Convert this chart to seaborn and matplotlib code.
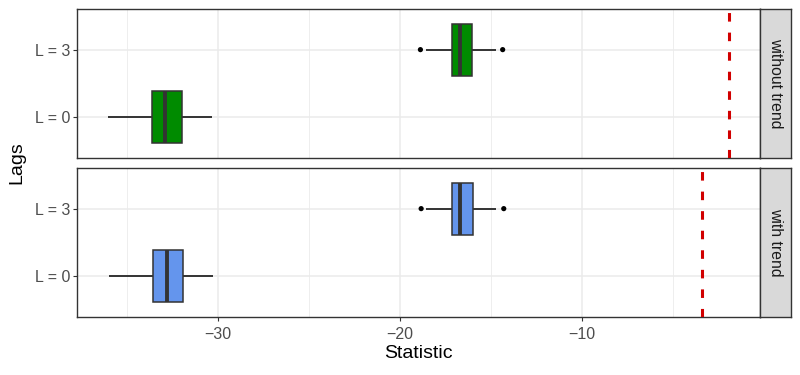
import matplotlib
matplotlib.use("Agg")
import matplotlib.pyplot as plt
import numpy as np
import pandas as pd
import seaborn as sns

# facets and categories
PANELS = ["without trend", "with trend"]
LAGS = ["L = 3", "L = 0"]
FILLS = ["#008B00", "#6495ED"]

# five-number summaries (whisker low, q1, median, q3, whisker high) per panel, per lag
without_trend_l3 = [-18.59, -17.16, -16.70, -16.04, -14.74]
without_trend_l0 = [-36.03, -33.64, -32.90, -31.96, -30.35]
with_trend_l3 = [-18.55, -17.13, -16.70, -15.99, -14.72]
with_trend_l0 = [-35.97, -33.59, -32.79, -31.91, -30.29]

# outlying points
without_trend_out_l3 = [-18.88, -14.36]
with_trend_out_l3 = [-18.84, -14.30]

# critical values (dashed lines)
critical = [-1.92, -3.39]

SUMMARIES = {
    "without trend": {"L = 3": without_trend_l3, "L = 0": without_trend_l0},
    "with trend": {"L = 3": with_trend_l3, "L = 0": with_trend_l0},
}
OUTLIERS = {
    "without trend": {"L = 3": without_trend_out_l3},
    "with trend": {"L = 3": with_trend_out_l3},
}

rows = []
for panel, d in SUMMARIES.items():
    for lag, vals in d.items():
        for v in vals:
            rows.append({"panel": panel, "lag": lag, "value": v})
df = pd.DataFrame(rows)

out_rows = []
for panel, d in OUTLIERS.items():
    for lag, vals in d.items():
        for v in vals:
            out_rows.append({"panel": panel, "lag": lag, "value": v})
out_df = pd.DataFrame(out_rows)
out_df["pos"] = out_df["lag"].map({lag: i for i, lag in enumerate(LAGS)})

sns.set_theme(style="white")
plt.rcParams["font.family"] = ["Liberation Sans", "DejaVu Sans"]

W, H = 800, 375
fig = plt.figure(figsize=(8, 3.75), dpi=100)

left, right, strip_w = 77, 760, 31
panel_boxes = [(9, 158), (168, 317)]
GRID = "#EBEBEB"
BORDER = "#333333"

for i, panel in enumerate(PANELS):
    top, bot = panel_boxes[i]
    ax = fig.add_axes([left / W, 1 - bot / H, (right - left) / W, (bot - top) / H])
    sub = df[df["panel"] == panel]

    # grid lines
    for x in [-35, -25, -15, -5]:
        ax.axvline(x, color=GRID, lw=0.6, zorder=0)
    for x in [-30, -20, -10]:
        ax.axvline(x, color=GRID, lw=1.1, zorder=0)
    for y in range(len(LAGS)):
        ax.axhline(y, color=GRID, lw=1.1, zorder=0)

    sns.boxplot(data=sub, x="value", y="lag", order=LAGS, orient="h",
                whis=np.inf, width=0.77, color=FILLS[i], saturation=1,
                linecolor=BORDER, linewidth=1.1, showcaps=False,
                medianprops=dict(linewidth=2.8, color=BORDER),
                whiskerprops=dict(linewidth=1.4, color=BORDER),
                ax=ax)

    osub = out_df[out_df["panel"] == panel]
    sns.scatterplot(data=osub, x="value", y="pos", color="black", s=14,
                    edgecolor="none", ax=ax, zorder=5)

    ax.axvline(critical[i], color="#D10000", lw=2.2, ls=(0, (2.8, 3.6)), zorder=4)

    ax.set_xlim(-37.75, -0.22)
    ax.set_ylim(1.6, -0.6)
    ax.set_yticks(range(len(LAGS)))
    ax.set_yticklabels(LAGS)
    ax.set_xticks([-30, -20, -10])
    ax.set_xticklabels(["\u221230", "\u221220", "\u221210"])
    ax.set_ylabel("")
    ax.set_xlabel("")
    ax.tick_params(axis="both", length=3, width=0.8, color=BORDER,
                   labelsize=11.5, labelcolor="#4D4D4D", pad=2, left=True, bottom=True)
    ax.tick_params(axis="x", pad=4)
    if i == 0:
        ax.tick_params(axis="x", labelbottom=False, bottom=False)
    for s in ax.spines.values():
        s.set_color(BORDER)
        s.set_linewidth(1.0)

    # facet strip
    sax = fig.add_axes([right / W, 1 - bot / H, strip_w / W, (bot - top) / H])
    sax.set_facecolor("#D9D9D9")
    sax.set_xticks([])
    sax.set_yticks([])
    for s in sax.spines.values():
        s.set_color(BORDER)
        s.set_linewidth(1.0)
    sax.text(0.5, 0.5, panel, rotation=-90, ha="center", va="center",
             fontsize=11.3, color="#1A1A1A", transform=sax.transAxes)

fig.text(17 / W, 1 - 163 / H, "Lags", rotation=90, ha="center", va="center",
         fontsize=14, color="black")
fig.text((left + right) / 2 / W, 1 - 354 / H, "Statistic", ha="center",
         va="center", fontsize=14, color="black")

fig.savefig("out.png", dpi=100)
